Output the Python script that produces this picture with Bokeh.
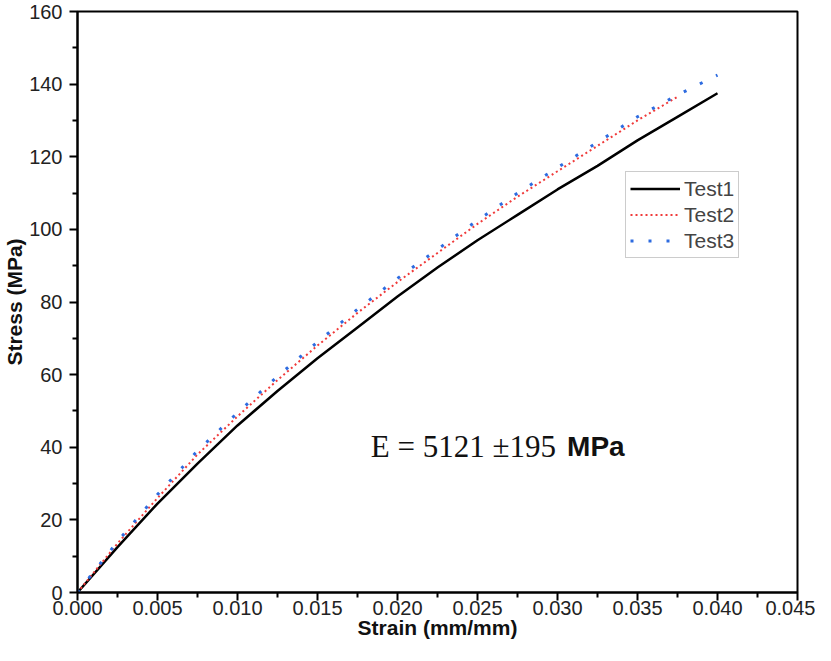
from bokeh.plotting import figure
from bokeh.models import Range1d, FixedTicker, NumeralTickFormatter, Legend, LegendItem, Label
from bokeh.embed import file_html
from bokeh.resources import INLINE

# Data
strain1 = [0.0, 0.0025, 0.005, 0.0075, 0.010, 0.0125, 0.015, 0.0175, 0.020, 0.0225,
           0.025, 0.0275, 0.030, 0.0325, 0.035, 0.0375, 0.040]
stress1 = [0.0, 12.5, 24.5, 35.5, 46.0, 55.5, 64.5, 73.0, 81.5, 89.5,
           97.0, 104.0, 111.0, 117.5, 124.5, 131.0, 137.5]

strain2 = [0.0, 0.0025, 0.005, 0.0075, 0.010, 0.0125, 0.015, 0.0175, 0.020, 0.0225,
           0.025, 0.0275, 0.030, 0.0325, 0.035, 0.0375]
stress2 = [0.0, 13.5, 26.0, 38.0, 48.5, 58.5, 68.0, 77.0, 85.5, 93.5,
           101.5, 109.0, 116.0, 123.0, 130.0, 136.5]

strain3 = [0.0, 0.0025, 0.005, 0.0075, 0.010, 0.0125, 0.015, 0.0175, 0.020, 0.0225,
           0.025, 0.0275, 0.030, 0.0325, 0.035, 0.0375, 0.040]
stress3 = [0.0, 14.0, 27.0, 39.0, 49.5, 59.5, 69.0, 78.0, 86.5, 94.5,
           102.5, 110.0, 117.0, 124.0, 131.0, 137.0, 142.5]

x_ticks = [0.000, 0.005, 0.010, 0.015, 0.020, 0.025, 0.030, 0.035, 0.040, 0.045]
x_minor = [0.0025 + 0.005 * i for i in range(9)]
y_ticks = [0, 20, 40, 60, 80, 100, 120, 140, 160]
y_minor = [10, 30, 50, 70, 90, 110, 130, 150]

FONT = "Liberation Sans"

p = figure(width=815, height=655, output_backend="svg", toolbar_location=None,
           x_range=Range1d(0, 0.045), y_range=Range1d(0, 160),
           min_border_left=75, min_border_right=18, min_border_top=11, min_border_bottom=63)
p.grid.visible = False
p.outline_line_color = "black"
p.outline_line_width = 2
p.background_fill_color = "white"

for ax in (p.xaxis[0], p.yaxis[0]):
    ax.axis_line_width = 2
    ax.major_tick_line_width = 2
    ax.minor_tick_line_width = 2
    ax.major_tick_out = 8
    ax.major_tick_in = 0
    ax.minor_tick_out = 5
    ax.minor_tick_in = 0
    ax.major_label_text_font = FONT
    ax.major_label_text_font_size = "20px"
    ax.major_label_text_color = "#222222"
    ax.axis_label_text_font = FONT
    ax.axis_label_text_font_style = "bold"
    ax.axis_label_text_font_size = "21px"
    ax.axis_label_text_color = "#111111"

p.xaxis.ticker = FixedTicker(ticks=x_ticks, minor_ticks=x_minor)
p.yaxis.ticker = FixedTicker(ticks=y_ticks, minor_ticks=y_minor)
p.xaxis.formatter = NumeralTickFormatter(format="0.000")
p.yaxis.formatter = NumeralTickFormatter(format="0")
p.xaxis.axis_label = "Strain (mm/mm)"
p.yaxis.axis_label = "Stress (MPa)"
p.xaxis.axis_label_standoff = -2
p.yaxis.axis_label_standoff = 0
p.xaxis.major_label_standoff = 0
p.yaxis.major_label_standoff = 7

r1 = p.line(strain1, stress1, line_color="black", line_width=2.5)
r2 = p.line(strain2, stress2, line_color="#f03a3a", line_width=2, line_dash="2 3")
r3 = p.line(strain3, stress3, line_color="#2d6be0", line_width=3, line_dash="3 15")

legend = Legend(items=[LegendItem(label="Test1", renderers=[r1]),
                       LegendItem(label="Test2", renderers=[r2]),
                       LegendItem(label="Test3", renderers=[r3])],
                location=(548, 334), glyph_width=50, glyph_height=25,
                label_text_font=FONT, label_text_font_size="21px",
                label_height=25, spacing=1, padding=4, margin=0,
                label_standoff=4, border_line_color="#999999", border_line_width=1.5,
                background_fill_alpha=1.0)
p.add_layout(legend)

p.add_layout(Label(x=0.01833, y=40.2, text="E = 5121 ±195", text_font="Liberation Serif",
                   text_font_size="31px", text_baseline="alphabetic", text_color="#111111"))
p.add_layout(Label(x=0.0306, y=40.2, text="MPa", text_font=FONT, text_font_style="bold",
                   text_font_size="28px", text_baseline="alphabetic", text_color="#111111"))

open("out.html", "w").write(file_html(p, INLINE))
